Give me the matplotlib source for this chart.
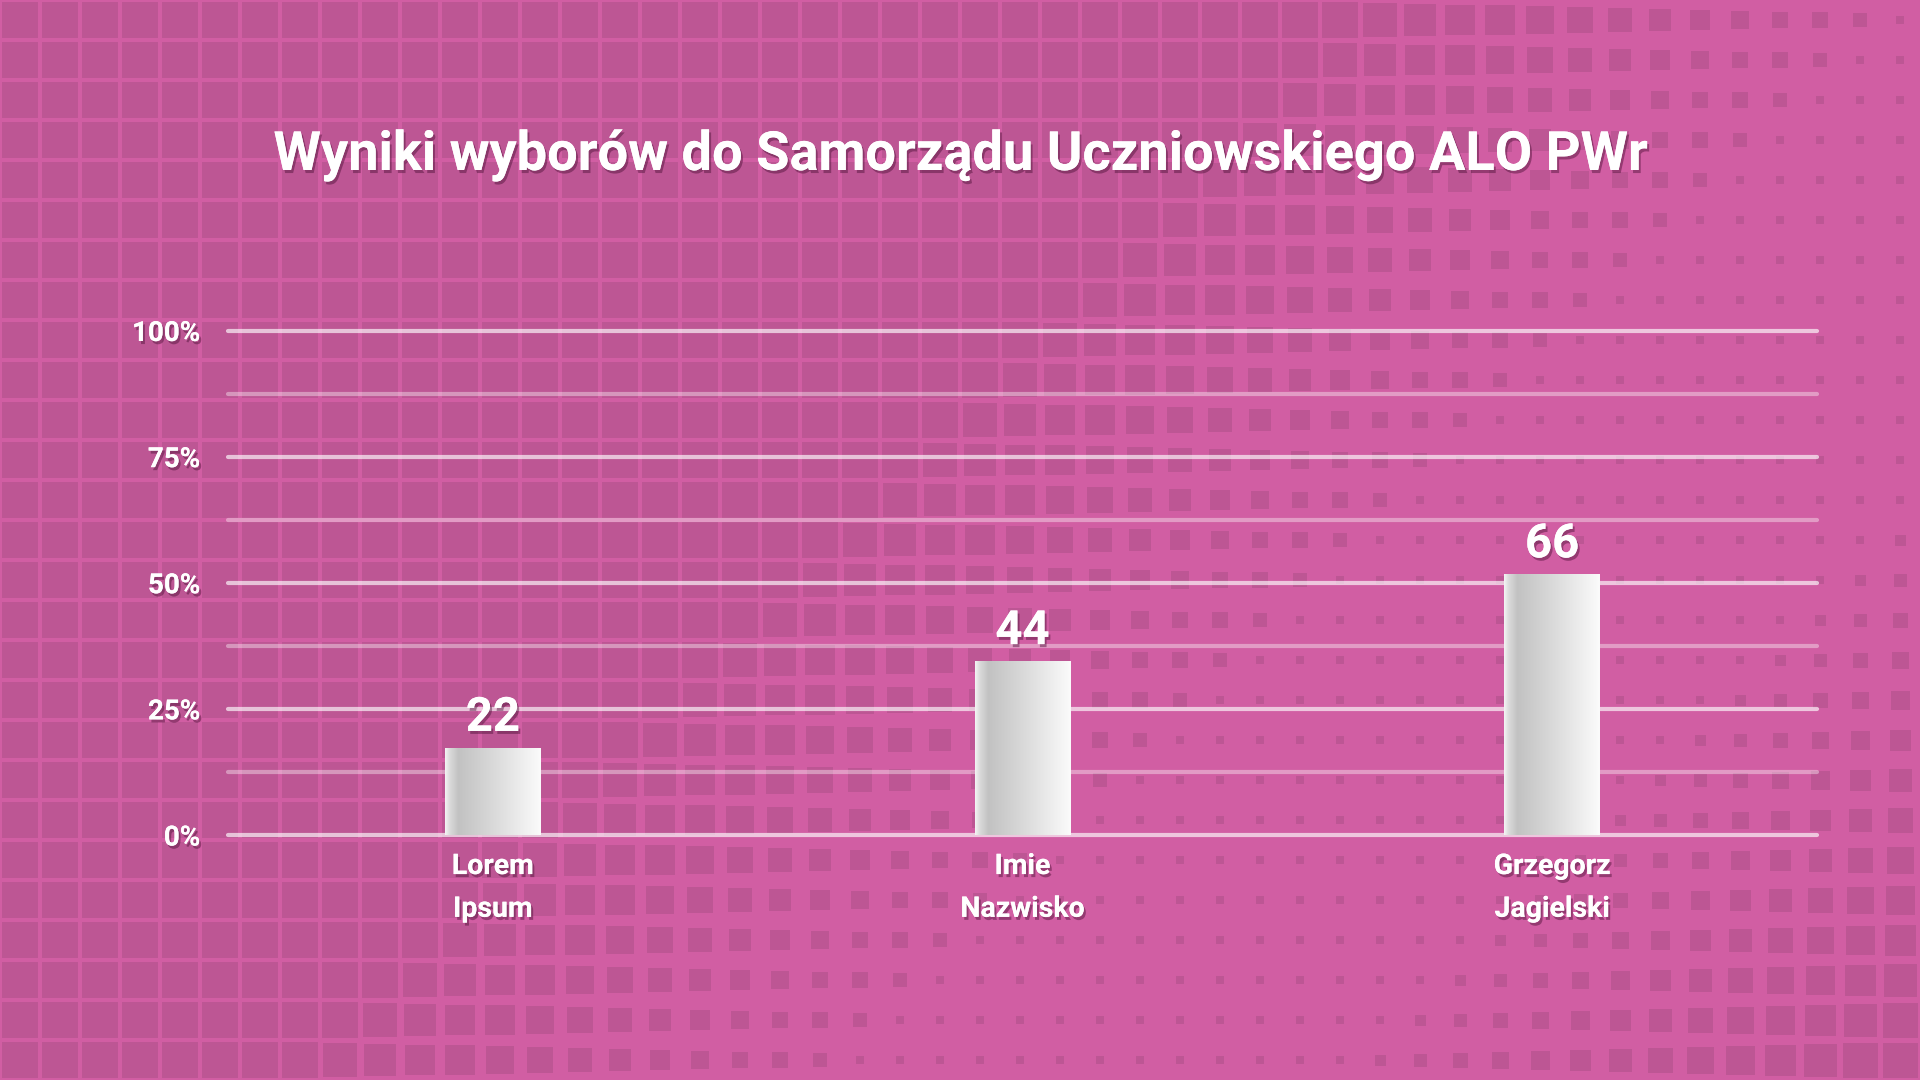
import numpy as np
import matplotlib
matplotlib.use("Agg")
import matplotlib.pyplot as plt
import matplotlib.patheffects as pe
from matplotlib.patches import Rectangle
from matplotlib.collections import PatchCollection
from matplotlib.colors import LinearSegmentedColormap

title = "Wyniki wyborów do Samorządu Uczniowskiego ALO PWr"
candidates = ["Lorem\nIpsum", "Imie\nNazwisko", "Grzegorz\nJagielski"]
votes = [22, 44, 66]
share = [17.2, 34.4, 51.6]          # bar heights in %
y_major = [0, 25, 50, 75, 100]
y_minor = [12.5, 37.5, 62.5, 87.5]

BG = "#D15EA3"
SQUARE = "#BD5694"
FONT = "Roboto"

shadow = [pe.withSimplePatchShadow(offset=(1.5, -2.2), shadow_rgbFace="#4a0f35", alpha=0.45),
          pe.Normal()]

fig = plt.figure(figsize=(19.2, 10.8), dpi=100)
fig.patch.set_facecolor(BG)

""" Halftone square pattern in the background """
bg = fig.add_axes([0, 0, 1, 1], zorder=0)
bg.set_xlim(0, 1920)
bg.set_ylim(1080, 0)
bg.axis("off")


def square_size(s):
    if s < 1905:
        return min(36.5, max(8, 30 - 0.0434 * (s - 1500)))
    if s < 2425:
        return 8
    return min(35, 11 + 0.05 * (s - 2440))


rects = []
for i in range(48):
    for j in range(27):
        cx, cy = 40 * i + 20, 40 * j + 20
        sz = square_size(cx + cy)
        rects.append(Rectangle((cx - sz / 2, cy - sz / 2), sz, sz))
bg.add_collection(PatchCollection(rects, facecolor=SQUARE, edgecolor="none"))

""" The chart itself """
ax = fig.add_axes([228 / 1920, 245 / 1080, (1817 - 228) / 1920, (749.5 - 245) / 1080], zorder=1)
ax.patch.set_alpha(0)
for sp in ax.spines.values():
    sp.set_visible(False)

for v in y_major:
    ax.axhline(v, color="white", alpha=0.65, lw=3, solid_capstyle="round", clip_on=False, zorder=1)
for v in y_minor:
    ax.axhline(v, color="white", alpha=0.38, lw=3, solid_capstyle="round", clip_on=False, zorder=1)

x = np.arange(len(candidates))
bars = ax.bar(x, share, width=0.18, color="none", zorder=3)

cmap = LinearSegmentedColormap.from_list(
    "bar", [(0, "#F4F4F4"), (0.05, "#DADADA"), (0.14, "#C2C2C2"), (0.5, "#D9D9D9"), (1, "#FBFBFB")])
grad = np.linspace(0, 1, 256).reshape(1, -1)
for b, n in zip(bars, votes):
    x0, w, h = b.get_x(), b.get_width(), b.get_height()
    ax.imshow(grad, extent=[x0, x0 + w, 0, h], aspect="auto", cmap=cmap, zorder=3)
    ax.annotate(str(n), (x0 + w / 2, h), xytext=(0, 12.5), textcoords="offset points",
                ha="center", va="baseline", color="white", fontsize=34, fontweight="bold",
                family=FONT, path_effects=shadow, zorder=4)

ax.set_xlim(-0.5, 2.5)
ax.set_ylim(0, 100)

ax.set_yticks(y_major)
ax.set_yticklabels([f"{v}%" for v in y_major])
ax.set_xticks(x)
ax.set_xticklabels(candidates, linespacing=1.75)
ax.tick_params(axis="y", length=0, pad=20, labelsize=20, labelcolor="white")
ax.tick_params(axis="x", length=0, pad=13, labelsize=20.5, labelcolor="white")
for lbl in ax.get_yticklabels() + ax.get_xticklabels():
    lbl.set_family(FONT)
    lbl.set_fontweight("bold")
    lbl.set_path_effects(shadow)

fig.text(0.5, 1 - 170 / 1080, title, ha="center", va="baseline", color="white",
         fontsize=39, fontweight="bold", family=FONT, path_effects=shadow)

fig.savefig("out.png", dpi=100, facecolor=BG)
